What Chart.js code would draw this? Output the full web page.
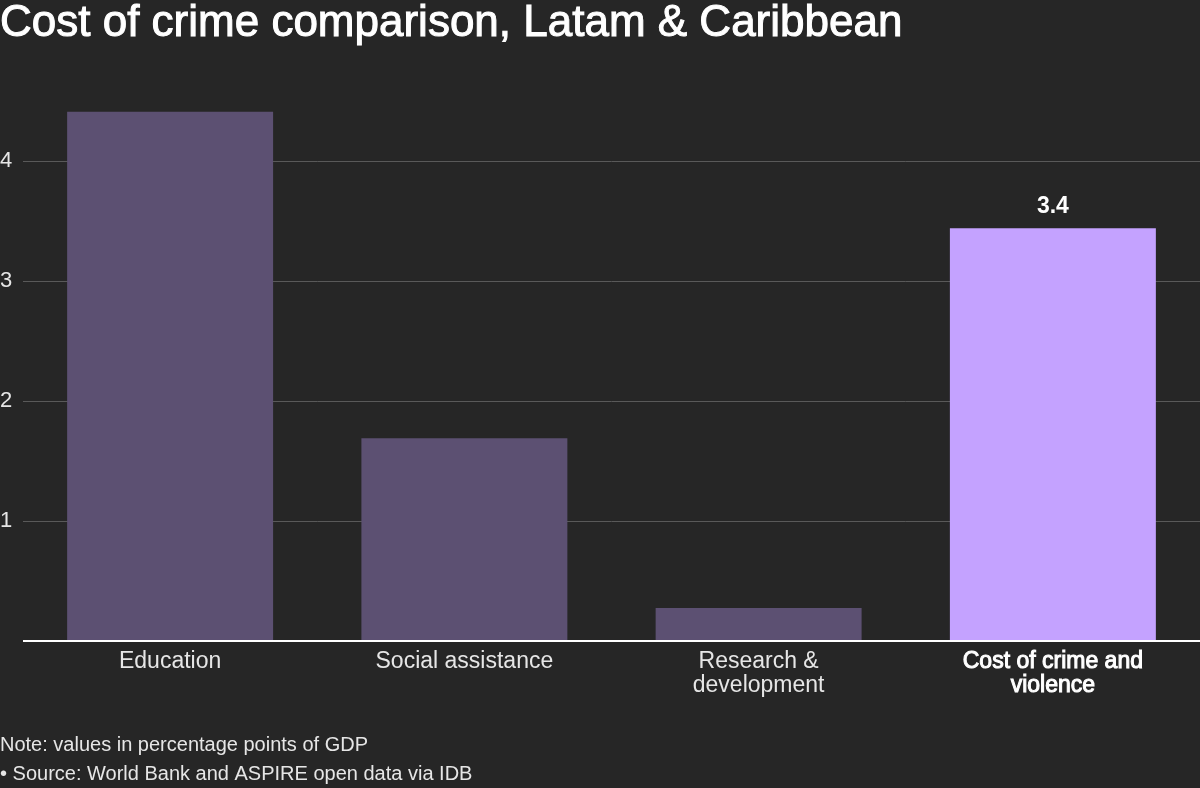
<!DOCTYPE html>
<html>
<head>
<meta charset="utf-8">
<script src="https://cdn.jsdelivr.net/npm/chart.js@4/dist/chart.umd.min.js"></script>
<style>
  html, body { margin: 0; padding: 0; background: #262626; }
  #wrap { position: relative; width: 1200px; height: 788px; }
  canvas { display: block; }
</style>
</head>
<body>
<div id="wrap"><canvas id="c" width="1200" height="788"></canvas></div>
<script>
const titleText = "Cost of crime comparison, Latam & Caribbean";
const noteLines = ["Note: values in percentage points of GDP", "\u2022 Source: World Bank and ASPIRE open data via IDB"];
const categories = [["Education"], ["Social assistance"], ["Research &", "development"], ["Cost of crime and", "violence"]];
const values = [4.41, 1.69, 0.275, 3.44];
const valueLabels = [null, null, null, "3.4"];
const highlight = [false, false, false, true];
const yTicks = [1, 2, 3, 4];

const BG = "#262626";
const DARK = "#5c5072";
const LIGHT = "#c4a2ff";
const FONT = "'Liberation Sans', Arial, Helvetica, sans-serif";

const decor = {
  id: "decor",
  beforeDraw(chart) {
    const ctx = chart.ctx;
    ctx.save();
    ctx.fillStyle = BG;
    ctx.fillRect(0, 0, chart.width, chart.height);
    ctx.restore();
  },
  afterDraw(chart) {
    const ctx = chart.ctx;
    ctx.save();
    ctx.fillStyle = "#ffffff";
    ctx.strokeStyle = "#ffffff";
    ctx.lineWidth = 1;
    ctx.font = "44px " + FONT;
    ctx.textBaseline = "alphabetic";
    ctx.textAlign = "left";
    ctx.fillText(titleText, 0, 36);
    ctx.strokeText(titleText, 0, 36);
    ctx.fillStyle = "#e6e6e6";
    ctx.font = "20px " + FONT;
    ctx.fillText(noteLines[0], 0, 751);
    ctx.fillText(noteLines[1], 0, 780);
    const meta = chart.getDatasetMeta(0);
    ctx.font = "bold 23px " + FONT;
    ctx.fillStyle = "#ffffff";
    ctx.textAlign = "center";
    meta.data.forEach((bar, i) => {
      if (valueLabels[i]) ctx.fillText(valueLabels[i], bar.x, bar.y - 15);
    });
    ctx.restore();
  }
};

new Chart(document.getElementById("c"), {
  type: "bar",
  data: {
    labels: categories,
    datasets: [{
      data: values,
      backgroundColor: highlight.map(h => h ? LIGHT : DARK),
      borderWidth: 0,
      categoryPercentage: 0.7,
      barPercentage: 1.0
    }]
  },
  options: {
    responsive: false,
    animation: false,
    devicePixelRatio: 1,
    layout: { padding: { top: 101, left: 0, right: 0, bottom: 0 } },
    plugins: { legend: { display: false }, tooltip: { enabled: false } },
    scales: {
      x: {
        grid: { display: false, drawTicks: false },
        border: { display: false },
        afterFit(axis) { axis.height = 147; },
        ticks: {
          padding: 9,
          maxRotation: 0,
          autoSkip: false,
          color: ctx => highlight[ctx.index] ? "#ffffff" : "#e6e6e6",
          textStrokeColor: "#ffffff",
          textStrokeWidth: ctx => highlight[ctx.index] ? 1 : 0,
          font: { family: FONT, size: 23, lineHeight: 24 / 23 }
        }
      },
      y: {
        min: 0,
        max: 4.5,
        afterBuildTicks(axis) {
          axis.ticks = [0].concat(yTicks).map(v => ({ value: v }));
        },
        afterFit(axis) { axis.width = 23; },
        border: { display: false },
        grid: {
          drawTicks: false,
          color: ctx => ctx.tick && ctx.tick.value === 0 ? "#ffffff" : "#595959",
          lineWidth: ctx => ctx.tick && ctx.tick.value === 0 ? 2 : 1
        },
        ticks: {
          padding: 0,
          crossAlign: "far",
          color: "#e6e6e6",
          font: { family: FONT, size: 22 },
          callback: v => v === 0 ? "" : String(v)
        }
      }
    }
  },
  plugins: [decor]
});
</script>
</body>
</html>
